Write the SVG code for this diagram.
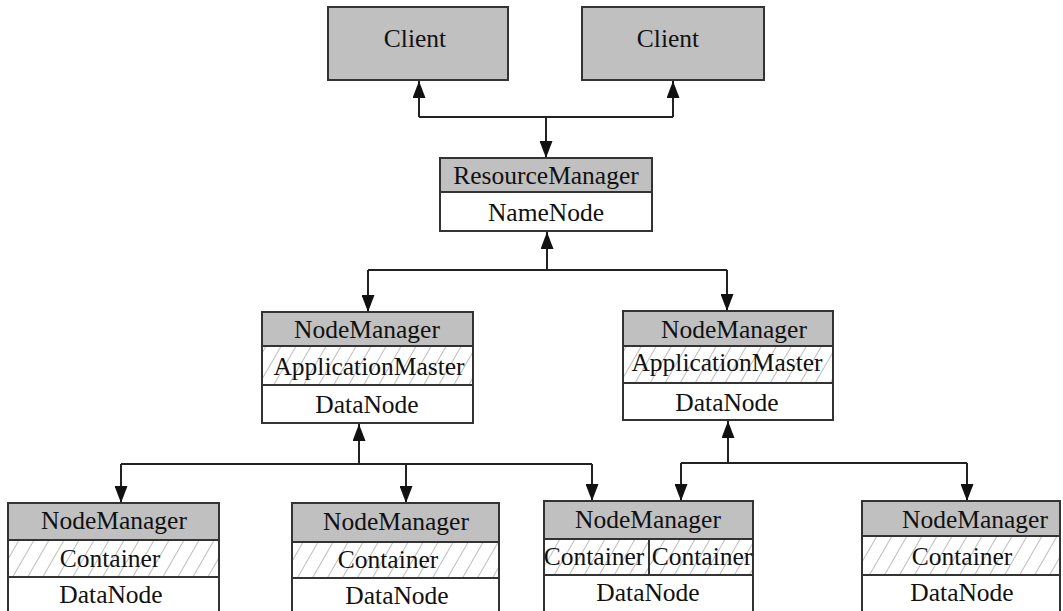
<svg xmlns="http://www.w3.org/2000/svg" width="1063" height="611" viewBox="0 0 1063 611">
<style>
.box{stroke:#333;stroke-width:2}
.hdr{fill:#c0c0c0}
.wht{fill:#fff}
.hat{fill:url(#hatch)}
.t{font-family:"Liberation Serif","Times New Roman",serif;font-size:25.5px;fill:#111;text-anchor:middle}
.c{fill:none;stroke:#222;stroke-width:2}
.a{fill:none;stroke:#222;stroke-width:2;marker-end:url(#arr)}
</style>
<defs>
<pattern id="hatch" patternUnits="userSpaceOnUse" width="13" height="13" patternTransform="rotate(30)">
<rect width="13" height="13" fill="#fff"/>
<line x1="0" y1="0" x2="0" y2="13" stroke="#bdbdbd" stroke-width="2"/>
</pattern>
<marker id="arr" markerUnits="userSpaceOnUse" markerWidth="17" markerHeight="13" refX="17" refY="6.5" orient="auto" viewBox="0 0 17 13">
<path d="M0,0 L17,6.5 L0,13 Z" fill="#111"/>
</marker>
</defs>
<rect width="1063" height="611" fill="#fff"/>

<g id="connectors">
<path class="c" d="M419,117 H673"/>
<path class="a" d="M419,117 V81"/>
<path class="a" d="M673,117 V81"/>
<path class="a" d="M546,117 V158"/>
<path class="c" d="M368,270 H727"/>
<path class="a" d="M547,270 V232"/>
<path class="a" d="M368,270 V312"/>
<path class="a" d="M727,270 V311"/>
<path class="c" d="M121,464 H592"/>
<path class="a" d="M359,464 V424"/>
<path class="a" d="M121,464 V503"/>
<path class="a" d="M406,464 V503"/>
<path class="a" d="M592,464 V501"/>
<path class="c" d="M681,463 H967"/>
<path class="a" d="M728,463 V421"/>
<path class="a" d="M681,463 V501"/>
<path class="a" d="M967,463 V501"/>
</g>

<g id="client1">
<rect class="box hdr" x="328" y="7" width="180" height="73"/>
<text class="t" x="415" y="47">Client</text>
</g>
<g id="client2">
<rect class="box hdr" x="582" y="7" width="182" height="73"/>
<text class="t" x="668" y="47">Client</text>
</g>

<g id="resourcemanager">
<rect class="box hdr" x="440" y="158" width="212" height="34"/>
<rect class="box wht" x="440" y="192" width="212" height="39"/>
<text class="t" x="546" y="184">ResourceManager</text>
<text class="t" x="546" y="221">NameNode</text>
</g>

<g id="nm-mid-left">
<rect class="box hdr" x="262" y="312" width="211" height="34"/>
<rect class="box hat" x="262" y="346" width="211" height="39"/>
<rect class="box wht" x="262" y="385" width="211" height="38"/>
<text class="t" x="367" y="338">NodeManager</text>
<text class="t" x="369" y="375">ApplicationMaster</text>
<text class="t" x="367" y="413">DataNode</text>
</g>

<g id="nm-mid-right">
<rect class="box hdr" x="623" y="311" width="210" height="35"/>
<rect class="box hat" x="623" y="346" width="210" height="37"/>
<rect class="box wht" x="623" y="383" width="210" height="37"/>
<text class="t" x="734" y="338">NodeManager</text>
<text class="t" x="727" y="371">ApplicationMaster</text>
<text class="t" x="727" y="411">DataNode</text>
</g>

<g id="nm-bottom-1">
<rect class="box hdr" x="8" y="503" width="211" height="37"/>
<rect class="box hat" x="8" y="540" width="211" height="37"/>
<rect class="box wht" x="8" y="577" width="211" height="40"/>
<text class="t" x="114" y="529">NodeManager</text>
<text class="t" x="110" y="567">Container</text>
<text class="t" x="111" y="603">DataNode</text>
</g>

<g id="nm-bottom-2">
<rect class="box hdr" x="292" y="503" width="207" height="39"/>
<rect class="box hat" x="292" y="542" width="207" height="36"/>
<rect class="box wht" x="292" y="578" width="207" height="39"/>
<text class="t" x="396" y="530">NodeManager</text>
<text class="t" x="388" y="568">Container</text>
<text class="t" x="397" y="604">DataNode</text>
</g>

<g id="nm-bottom-3">
<rect class="box hdr" x="544" y="501" width="209" height="38"/>
<rect class="box hat" x="544" y="539" width="209" height="36"/>
<line class="box" x1="649" y1="539" x2="649" y2="575"/>
<rect class="box wht" x="544" y="575" width="209" height="42"/>
<text class="t" x="648" y="528">NodeManager</text>
<text class="t" x="594" y="565">Container</text>
<text class="t" x="702" y="565">Container</text>
<text class="t" x="648" y="601">DataNode</text>
</g>

<g id="nm-bottom-4">
<rect class="box hdr" x="862" y="501" width="198" height="35"/>
<rect class="box hat" x="862" y="536" width="198" height="39"/>
<rect class="box wht" x="862" y="575" width="198" height="42"/>
<text class="t" x="975" y="528">NodeManager</text>
<text class="t" x="962" y="565">Container</text>
<text class="t" x="962" y="601">DataNode</text>
</g>
</svg>
